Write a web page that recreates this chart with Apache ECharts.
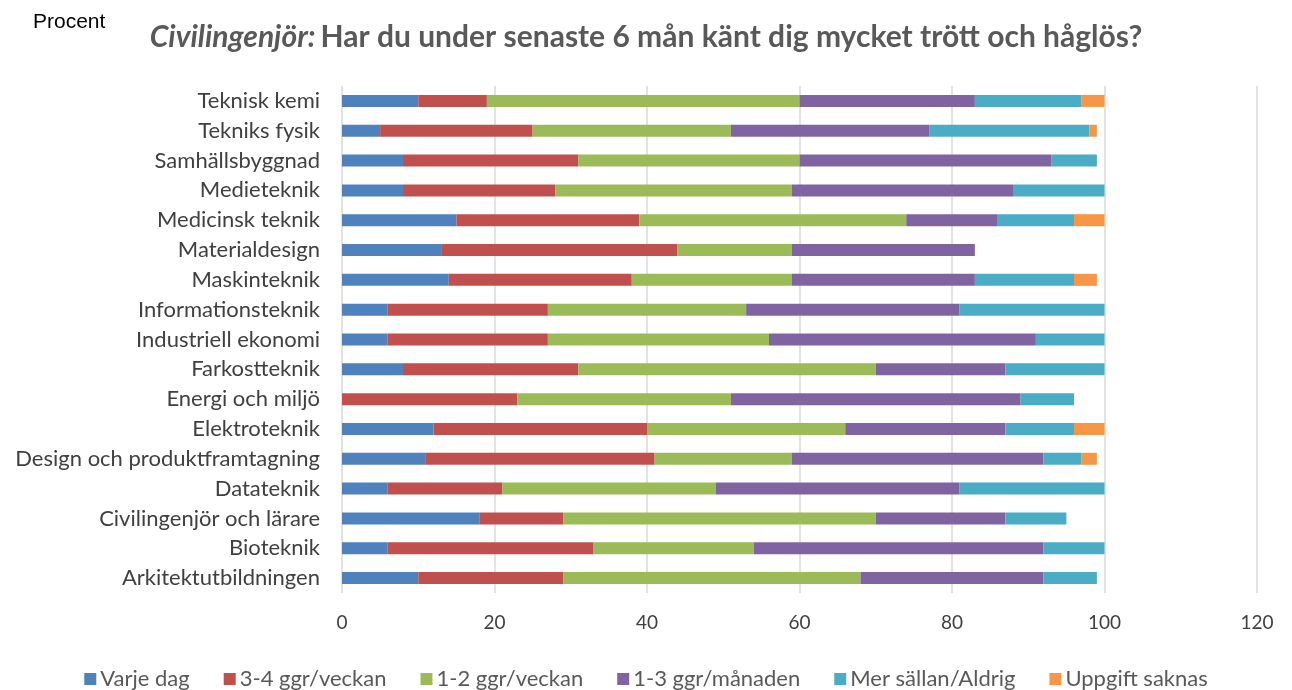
<!DOCTYPE html>
<html>
<head>
<meta charset="utf-8">
<script src="https://cdn.jsdelivr.net/npm/echarts@6/dist/echarts.min.js"></script>
<style>
  html, body { margin: 0; padding: 0; background: #fff; }
  #chart { width: 1292px; height: 690px; }
</style>
</head>
<body>
<div id="chart"></div>
<script>
// Programs, listed bottom to top as they appear on the category axis
const programs = [
  'Arkitektutbildningen', 'Bioteknik', 'Civilingenjör och lärare', 'Datateknik',
  'Design och produktframtagning', 'Elektroteknik', 'Energi och miljö', 'Farkostteknik',
  'Industriell ekonomi', 'Informationsteknik', 'Maskinteknik', 'Materialdesign',
  'Medicinsk teknik', 'Medieteknik', 'Samhällsbyggnad', 'Tekniks fysik', 'Teknisk kemi'
];

// Share of answers (percent) per response option, same order as programs
const varjeDag     = [10,  6, 18,  6, 11, 12,  0,  8,  6,  6, 14, 13, 15,  8,  8,  5, 10];
const ggr34Veckan  = [19, 27, 11, 15, 30, 28, 23, 23, 21, 21, 24, 31, 24, 20, 23, 20,  9];
const ggr12Veckan  = [39, 21, 41, 28, 18, 26, 28, 39, 29, 26, 21, 15, 35, 31, 29, 26, 41];
const ggr13Manaden = [24, 38, 17, 32, 33, 21, 38, 17, 35, 28, 24, 24, 12, 29, 33, 26, 23];
const merSallan    = [ 7,  8,  8, 19,  5,  9,  7, 13,  9, 19, 13,  0, 10, 12,  6, 21, 14];
const uppgiftSaknas= [ 0,  0,  0,  0,  2,  4,  0,  0,  0,  0,  3,  0,  4,  0,  0,  1,  3];

const xTicks = { min: 0, max: 120, interval: 20 };

const seriesDefs = [
  { name: 'Varje dag',         data: varjeDag,      color: '#4F81BD' },
  { name: '3-4 ggr/veckan',    data: ggr34Veckan,   color: '#C0504D' },
  { name: '1-2 ggr/veckan',    data: ggr12Veckan,   color: '#9BBB59' },
  { name: '1-3 ggr/månaden',   data: ggr13Manaden,  color: '#8064A2' },
  { name: 'Mer sällan/Aldrig', data: merSallan,     color: '#4BACC6' },
  { name: 'Uppgift saknas',    data: uppgiftSaknas, color: '#F79646' }
];

const FONT = 'Lato, "Open Sans", sans-serif';

const chart = echarts.init(document.getElementById('chart'), null, { renderer: 'canvas' });

chart.setOption({
  animation: false,
  backgroundColor: '#ffffff',
  title: [
    {
      text: 'Procent',
      left: 28, top: 7,
      textStyle: { fontFamily: 'Liberation Sans, Arial, sans-serif', fontSize: 21, fontWeight: 'normal', color: '#000000' }
    },
    {
      text: '{i|Civilingenjör:} {b|Har du under senaste 6 mån känt dig mycket trött och håglös?}',
      left: 'center', top: 17,
      textStyle: {
        rich: {
          i: { fontFamily: FONT, fontSize: 30, fontStyle: 'italic', fontWeight: 'bold', color: '#595959' },
          b: { fontFamily: FONT, fontSize: 30, fontWeight: 'bold', color: '#595959' }
        }
      }
    }
  ],
  legend: {
    top: 663,
    left: 'center',
    itemWidth: 12, itemHeight: 12, itemGap: 34,
    icon: 'rect',
    textStyle: { fontFamily: FONT, fontSize: 22, color: '#595959', padding: [0, 0, 0, -1] },
    data: seriesDefs.map(s => s.name)
  },
  grid: { left: 342, right: 35, top: 86, bottom: 97, containLabel: false },
  xAxis: {
    type: 'value',
    min: xTicks.min, max: xTicks.max, interval: xTicks.interval,
    axisLine: { show: false },
    axisTick: { show: false },
    axisLabel: { fontFamily: FONT, fontSize: 19, color: '#404040', margin: 20 },
    splitLine: { show: true, lineStyle: { color: '#D9D9D9', width: 1.5 } }
  },
  yAxis: {
    type: 'category',
    data: programs,
    axisLine: { show: false },
    axisTick: { show: false },
    axisLabel: { fontFamily: FONT, fontSize: 22, color: '#404040', margin: 22 },
    splitLine: { show: false }
  },
  series: seriesDefs.map(s => ({
    name: s.name,
    type: 'bar',
    stack: 'total',
    barWidth: 12,
    itemStyle: { color: s.color },
    data: s.data
  }))
});
</script>
</body>
</html>
